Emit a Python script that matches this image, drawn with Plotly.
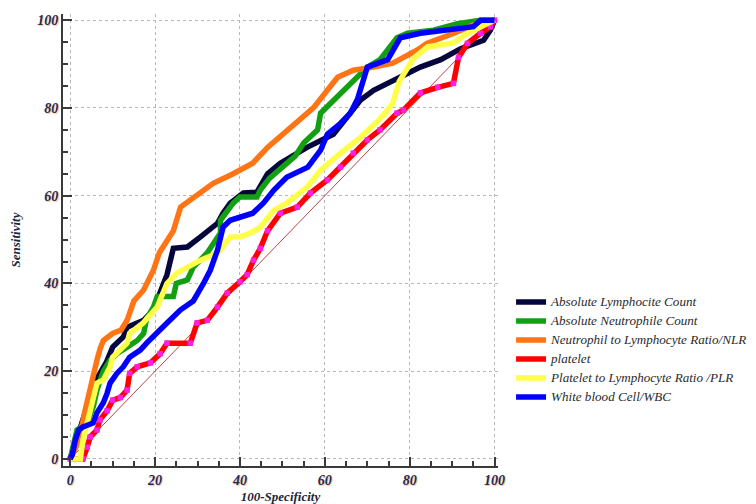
import plotly.graph_objects as go

# ---------------- data ----------------
series_names = [
    "Absolute Lymphocite Count",
    "Absolute Neutrophile Count",
    "Neutrophil to Lymphocyte Ratio/NLR",
    "platelet",
    "Platelet to Lymphocyte Ratio /PLR",
    "White blood Cell/WBC",
]

alc_x = [0, 1, 2, 3, 4, 5, 6, 7, 8.5, 10, 12.5, 13.4, 17.3, 19.6, 21.2, 22.8, 24.3, 27.6, 30.7, 34.7, 36, 37.7, 40.8, 44, 46.5, 49.5, 55.8, 62, 65.3, 68.4, 71.5, 74.8, 79.5, 82.5, 87.3, 90.3, 92, 97.4, 99, 100]
alc_y = [0, 3, 6, 10, 12, 15, 18, 19.5, 22, 25.5, 27.8, 30, 31.6, 34, 38, 42, 48, 48.3, 50.6, 53.7, 56, 58.3, 60.6, 60.8, 65, 67.4, 71, 74, 78, 81.8, 84, 85.6, 88, 89.3, 91, 92.5, 93.5, 95.4, 97.7, 100]

anc_x = [0, 0.7, 1.6, 4, 5.4, 6.3, 7.8, 9.4, 11, 13.4, 15.8, 17.3, 18, 19.6, 20.5, 24.3, 25, 27.6, 29, 32.3, 33.7, 35.4, 35.4, 37, 38.4, 40, 44, 44.8, 47, 50, 53, 55, 58.3, 59, 63, 66.7, 70, 73, 77, 79.5, 85.6, 91.3, 96.7, 100]
anc_y = [0, 2.7, 6.6, 8.2, 11.8, 15.7, 20, 22.5, 24, 25.5, 27, 28.6, 32, 34.6, 37, 37, 40, 40.8, 43.7, 47, 49, 51.5, 54.4, 56.7, 58.3, 59.7, 59.7, 61.3, 64, 66.5, 69, 72, 75, 78.8, 82.5, 86.3, 89.3, 91, 96, 97, 97.7, 99.2, 100, 100]

nlr_x = [0, 0.5, 2, 3.5, 4.7, 5.4, 6.3, 7, 7.8, 10, 12, 13.4, 15, 17.3, 19.6, 21, 22.8, 24.3, 26, 30.7, 33.7, 38.4, 43, 46.5, 52, 57.3, 63, 66.7, 71.5, 76, 81.8, 84, 90.4, 95, 100]
nlr_y = [0, 1, 4, 11, 16, 20, 22.5, 25, 27, 28.6, 29.4, 31.6, 36, 38.5, 43, 47, 50, 52, 57.4, 60.6, 62.8, 65, 67.4, 71, 75.6, 80, 87, 88.6, 89.3, 90.2, 93.2, 94.7, 97, 98.9, 100]

plt_x = [0, 3, 4, 4.7, 6.3, 7, 8.7, 10, 11.8, 13.4, 14, 15.8, 18.9, 21.2, 22.8, 28.3, 29.9, 32.3, 34.7, 37, 40, 41.7, 43.2, 44.8, 46.5, 49.5, 53.5, 56.6, 60.6, 63.7, 66.7, 70, 73, 77, 78.5, 82.5, 86.6, 90.3, 91.5, 93.6, 96.7, 99, 100]
plt_y = [0, 0, 2.7, 5, 6.6, 8.9, 11, 13.4, 14, 15.7, 19.5, 21, 21.9, 24, 26.4, 26.4, 31, 31.6, 34.6, 37.8, 40.4, 42, 45.3, 48, 52, 56, 57.4, 60.6, 63.6, 66.5, 69.7, 72.7, 75, 78.8, 79.5, 83.4, 84.7, 85.6, 91.5, 94.7, 97, 98.5, 100]

plr_x = [0, 2.4, 3, 4, 4.7, 5.4, 6.3, 7.8, 8.7, 9.4, 10, 11.8, 13.4, 14, 15, 17.2, 20.5, 22.8, 25.2, 27.6, 30.7, 33.7, 35.4, 37.7, 40, 42.5, 44.8, 48, 51, 55.9, 59, 63.7, 68.4, 73, 76, 77.5, 80.9, 84.2, 90.3, 93.6, 98.3, 100]
plr_y = [0, 0, 4.3, 8, 11, 14, 17.3, 18, 19.5, 21, 23.2, 24.8, 26.4, 28.6, 29.4, 31, 34.6, 40, 42.4, 43.7, 45.3, 46.5, 47.6, 50.6, 50.6, 51.5, 52.8, 56.7, 58.3, 62, 65.8, 69.7, 73.3, 77.5, 81, 86, 91.3, 93.9, 94.8, 97, 99.3, 100]

wbc_x = [0, 0.5, 1.2, 2, 3, 5.4, 6.3, 7.8, 8.7, 9.4, 11, 12.5, 14, 16.5, 18, 19.6, 21.2, 22.8, 26, 29, 31.4, 33, 34.7, 35.4, 36, 37.7, 40, 43, 45.5, 48, 51, 56, 59, 60.6, 63.7, 66, 67.7, 70, 74.8, 77, 77.8, 82.5, 89, 95, 96.7, 100]
wbc_y = [0, 1, 4.3, 6.6, 7.3, 8.2, 10.5, 12.8, 15, 17.3, 19.5, 21, 23.2, 24.8, 26.4, 27.8, 29.4, 31, 34, 36, 40, 43, 47.6, 50.6, 52.8, 54.4, 55, 56, 58.3, 61.3, 64.2, 66.5, 70.4, 74, 76.5, 78.8, 82, 89.3, 91, 94.7, 96, 97, 97.7, 98.5, 100, 100]

ref_x = [0, 100]
ref_y = [0, 100]

tick_vals = [0, 20, 40, 60, 80, 100]
tick_text = ["0", "20", "40", "60", "80", "100"]

colors = ["#06063f", "#12a012", "#ff7414", "#ff0000", "#ffff4a", "#0000ff"]

xs = [alc_x, anc_x, nlr_x, plt_x, plr_x, wbc_x]
ys = [alc_y, anc_y, nlr_y, plt_y, plr_y, wbc_y]

fig = go.Figure()

# diagonal reference line
fig.add_trace(go.Scatter(x=ref_x, y=ref_y, mode="lines",
                         line=dict(color="#b04848", width=1),
                         showlegend=False, hoverinfo="skip"))

for name, x, y, c in zip(series_names, xs, ys, colors):
    fig.add_trace(go.Scatter(x=x, y=y, mode="lines",
                             name='<span style="font-size:13.1px">' + name + '</span>',
                             line=dict(color=c, width=5.5)))
    if name == "platelet":
        fig.add_trace(go.Scatter(x=x, y=y, mode="markers", showlegend=False,
                                 marker=dict(symbol="square", size=5.5, color="#ff1ee6"),
                                 hoverinfo="skip"))

tick_font = dict(family="Liberation Serif", size=14, color="#1c2c5c",
                 style="italic", weight="bold",
                 shadow="1px 1px 1px rgba(235,140,60,0.55)")
title_font = dict(family="Liberation Serif", size=13, color="#22263a",
                  style="italic", weight="bold")

axis_common = dict(
    tickvals=tick_vals, ticktext=tick_text,
    showline=True, linecolor="#3a3a3a", linewidth=2,
    ticks="inside", ticklen=9, tickwidth=2, tickcolor="#3a3a3a",
    showgrid=True, gridcolor="#b8b8b8", griddash="dot", gridwidth=1,
    zeroline=False, tickfont=tick_font, automargin=False,
    minor=dict(dtick=5, ticks="inside", ticklen=5, tickwidth=2,
               tickcolor="#3a3a3a", showgrid=False),
)

# the page body adds an 8px margin, so the figure is 748x496 and offset accordingly
fig.update_layout(
    width=748, height=496,
    margin=dict(l=55, r=258, t=6, b=38, autoexpand=False),
    plot_bgcolor="white", paper_bgcolor="white",
    xaxis=dict(range=[-1.7, 100.8], title=dict(text="100-Specificity", font=title_font, standoff=7),
               **axis_common),
    yaxis=dict(range=[-1.6, 101.4], title=dict(text="Sensitivity", font=title_font, standoff=17),
               **axis_common),
    legend=dict(x=1.03, y=0.395, xanchor="left", yanchor="top",
                font=dict(family="Liberation Serif", size=10.8, color="#2a2a2a", style="italic"),
                bgcolor="rgba(0,0,0,0)", tracegroupgap=0, itemwidth=30),
    showlegend=True,
)

fig.write_html("out.html")
